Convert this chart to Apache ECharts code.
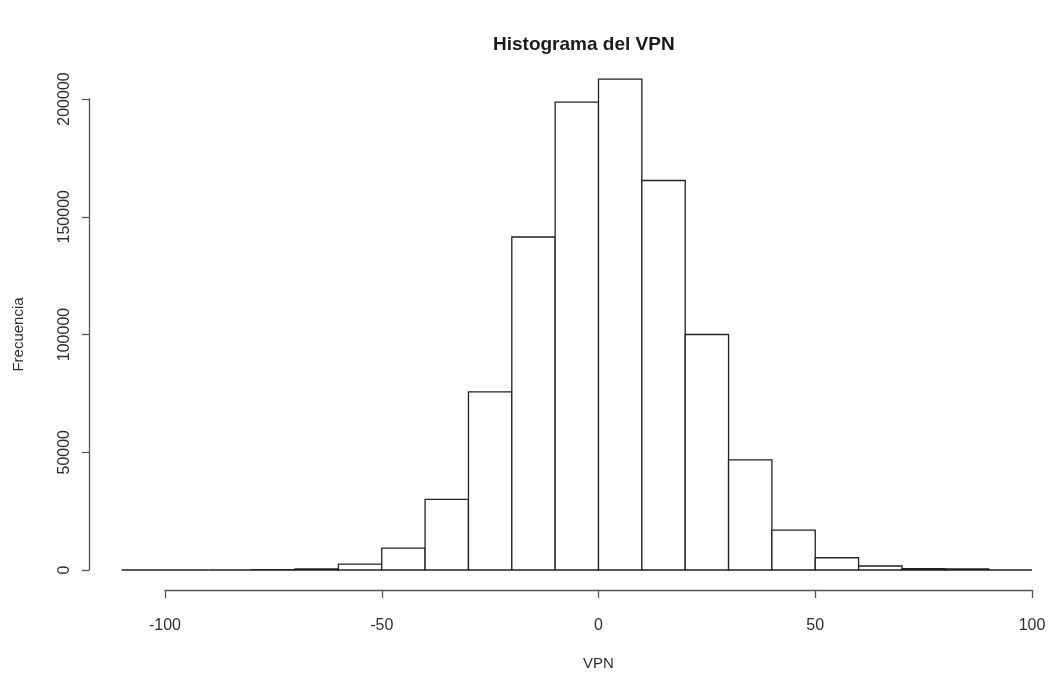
<!DOCTYPE html>
<html>
<head>
<meta charset="utf-8">
<title>Histograma del VPN</title>
<script src="https://cdn.jsdelivr.net/npm/echarts@6/dist/echarts.min.js"></script>
<style>
  html, body { margin: 0; padding: 0; background: #fff; }
  #chart { width: 1049px; height: 676px; }
</style>
</head>
<body>
<div id="chart"></div>
<script>
// bins (left edge, right edge) y frecuencia
const binStart = [-110, -100, -90, -80, -70, -60, -50, -40, -30, -20, -10, 0, 10, 20, 30, 40, 50, 60, 70, 80, 90];
const binEnd   = [-100, -90, -80, -70, -60, -50, -40, -30, -20, -10, 0, 10, 20, 30, 40, 50, 60, 70, 80, 90, 100];
const counts   = [0, 0, 0, 200, 500, 2500, 9300, 30000, 75600, 141400, 198700, 208400, 165400, 100000, 46800, 16900, 5200, 1700, 600, 500, 0];
const xTicks = [-100, -50, 0, 50, 100];
const yTicks = [0, 50000, 100000, 150000, 200000];

const textColor = '#2e2e2e';
const axisColor = '#555555';
const barStroke = '#222222';
const fontFamily = '"Liberation Sans", Arial, Helvetica, sans-serif';

const chart = echarts.init(document.getElementById('chart'));

const data = binStart.map((s, i) => [s, binEnd[i], counts[i]]);

const option = {
  backgroundColor: '#ffffff',
  animation: false,
  title: {
    text: 'Histograma del VPN',
    left: 488,
    top: 30,
    textStyle: {
      color: '#1a1a1a',
      fontWeight: 'bold',
      fontSize: 19,
      fontFamily: fontFamily
    }
  },
  grid: {
    left: 165,
    right: 17,
    top: 99,
    bottom: 103,
    containLabel: false
  },
  xAxis: {
    type: 'value',
    min: xTicks[0],
    max: xTicks[xTicks.length - 1],
    interval: 50,
    offset: 20,
    name: 'VPN',
    nameLocation: 'middle',
    nameGap: 66,
    nameTextStyle: { color: textColor, fontSize: 15, fontFamily: fontFamily },
    axisLine: { show: true, onZero: false, lineStyle: { color: axisColor, width: 1.3 } },
    axisTick: { show: true, length: 8, lineStyle: { color: axisColor, width: 1.3 } },
    axisLabel: {
      color: textColor,
      fontSize: 16,
      fontFamily: fontFamily,
      margin: 28,
      showMinLabel: true,
      showMaxLabel: true,
      formatter: (v) => String(v)
    },
    splitLine: { show: false }
  },
  yAxis: {
    type: 'value',
    min: yTicks[0],
    max: yTicks[yTicks.length - 1],
    interval: 50000,
    offset: 76,
    name: 'Frecuencia',
    nameLocation: 'middle',
    nameGap: 63,
    nameTextStyle: { color: textColor, fontSize: 15, fontFamily: fontFamily },
    axisLine: { show: true, onZero: false, lineStyle: { color: axisColor, width: 1.3 } },
    axisTick: { show: true, length: 7, lineStyle: { color: axisColor, width: 1.3 } },
    axisLabel: {
      color: textColor,
      fontSize: 16,
      fontFamily: fontFamily,
      rotate: 90,
      margin: 16,
      formatter: (v) => String(v)
    },
    splitLine: { show: false }
  },
  series: [
    {
      type: 'custom',
      clip: false,
      data: data,
      encode: { x: [0, 1], y: 2 },
      renderItem: (params, api) => {
        const x0 = api.value(0);
        const x1 = api.value(1);
        const c = api.value(2);
        const pTop = api.coord([x0, c]);
        const pBottom = api.coord([x1, 0]);
        return {
          type: 'rect',
          shape: {
            x: pTop[0],
            y: pTop[1],
            width: pBottom[0] - pTop[0],
            height: pBottom[1] - pTop[1]
          },
          style: {
            fill: '#ffffff',
            stroke: barStroke,
            lineWidth: 1.3
          }
        };
      }
    }
  ]
};

chart.setOption(option);
</script>
</body>
</html>
